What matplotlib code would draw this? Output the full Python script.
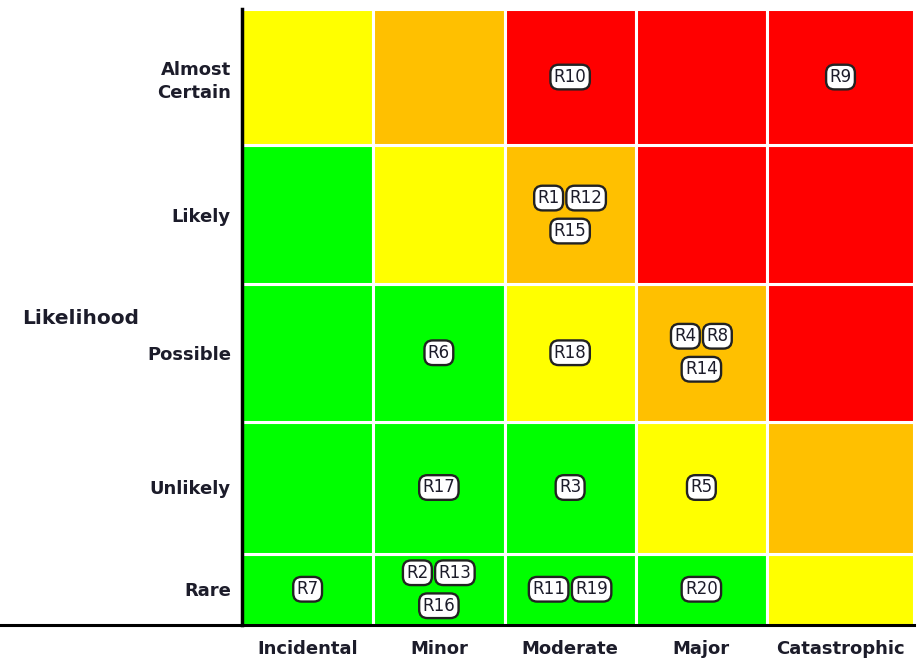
import numpy as np
import matplotlib
matplotlib.use("Agg")
import matplotlib.pyplot as plt
from matplotlib.lines import Line2D

# Datos de la matriz de riesgo
impact = ["Incidental", "Minor", "Moderate", "Major", "Catastrophic"]
likelihood = ["Rare", "Unlikely", "Possible", "Likely", "Almost\nCertain"]  # de abajo hacia arriba
col_widths = [1.0, 1.0, 1.0, 1.0, 1.12]
row_heights = [0.52, 0.96, 1.0, 1.01, 0.99]

# nivel de riesgo por celda (fila = likelihood de abajo a arriba)
# 0 = verde, 1 = amarillo, 2 = naranja, 3 = rojo
levels = [
    [0, 0, 0, 0, 1],
    [0, 0, 0, 1, 2],
    [0, 0, 1, 2, 3],
    [0, 1, 2, 3, 3],
    [1, 2, 3, 3, 3],
]
level_colors = ["#00FF00", "#FFFF00", "#FFC000", "#FF0000"]

# riesgos: (id, fila likelihood, columna impacto)
risk_ids = ["R1", "R12", "R15", "R2", "R13", "R16", "R3", "R4", "R8", "R14",
            "R5", "R6", "R7", "R9", "R10", "R11", "R19", "R17", "R18", "R20"]
risk_like = [3, 3, 3, 0, 0, 0, 1, 2, 2, 2, 1, 2, 0, 4, 4, 0, 0, 1, 2, 0]
risk_imp = [2, 2, 2, 1, 1, 1, 2, 3, 3, 3, 3, 1, 0, 4, 2, 2, 2, 1, 2, 3]

txt_color = "#1c1c2a"

fig = plt.figure(figsize=(9.23, 6.6), dpi=100)
W, H = 923, 660
ax = fig.add_axes([242 / W, 1 - 625 / H, (914 - 242) / W, (625 - 9) / H])

x_edges = np.concatenate(([0], np.cumsum(col_widths)))
y_edges = np.concatenate(([0], np.cumsum(row_heights)))

for i in range(len(likelihood)):
    for j in range(len(impact)):
        ax.bar(x_edges[j], row_heights[i], width=col_widths[j], bottom=y_edges[i],
               align="edge", color=level_colors[levels[i][j]],
               edgecolor="white", linewidth=2.2, zorder=1)

ax.set_xlim(0, x_edges[-1])
ax.set_ylim(0, y_edges[-1])

# etiquetas de ejes
ax.set_xticks((x_edges[:-1] + x_edges[1:]) / 2)
ax.set_xticklabels(impact, fontsize=13, fontweight="bold", color=txt_color)
ax.set_yticks((y_edges[:-1] + y_edges[1:]) / 2)
ax.set_yticklabels(likelihood, fontsize=13, fontweight="bold", color=txt_color,
                   linespacing=1.35)
ax.tick_params(length=0)
ax.tick_params(axis="x", pad=11)
ax.tick_params(axis="y", pad=8)

for s in ["top", "right"]:
    ax.spines[s].set_visible(False)
ax.spines["left"].set_linewidth(2.5)
ax.spines["bottom"].set_linewidth(2.2)
ax.spines["left"].set_zorder(5)
ax.spines["bottom"].set_zorder(5)

# linea inferior que se extiende hacia la izquierda
fig.add_artist(Line2D([0, 242 / W], [1 - 625 / H, 1 - 625 / H],
                      color="black", linewidth=2.2, transform=fig.transFigure))

fig.text(22 / W, 1 - 318 / H, "Likelihood", fontsize=14.5, fontweight="bold",
         color=txt_color, ha="left", va="center")

# insignias de riesgo
def badge_w(s):
    return 11 * len(s) + 7

cells = {}
for rid, li, im in zip(risk_ids, risk_like, risk_imp):
    cells.setdefault((li, im), []).append(rid)

for (li, im), ids in cells.items():
    cx = (x_edges[im] + x_edges[im + 1]) / 2
    cy = (y_edges[li] + y_edges[li + 1]) / 2
    if len(ids) <= 2:
        rows = [ids]
    else:
        rows = [ids[:2], ids[2:]]
    ny = len(rows)
    for r, row in enumerate(rows):
        dy = 0 if ny == 1 else (16.5 if r == 0 else -16.5)
        widths = [badge_w(s) for s in row]
        total = sum(widths) + 3 * (len(row) - 1)
        left = -total / 2
        for s, w in zip(row, widths):
            dx = left + w / 2
            left += w + 3
            ax.annotate(s, xy=(cx, cy), xytext=(dx, dy), textcoords="offset pixels",
                        ha="center", va="center", fontsize=12, color=txt_color,
                        bbox=dict(boxstyle="round,pad=0.2,rounding_size=0.5",
                                  fc="white", ec="#222222", lw=1.7), zorder=4)

fig.savefig("out.png", dpi=100)
